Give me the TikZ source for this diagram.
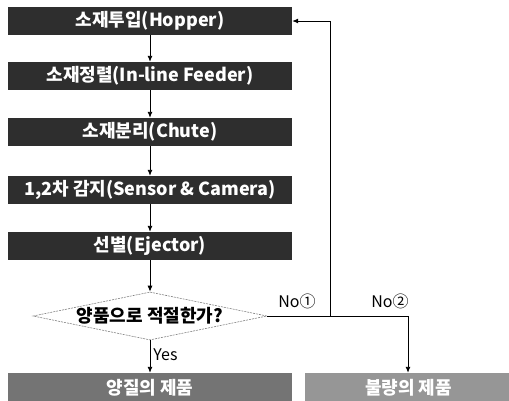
\documentclass[tikz,border=0pt]{standalone}
\usepackage{fontspec}
\setmainfont{Noto Sans CJK KR}
\usetikzlibrary{shapes.geometric,arrows.meta}
\definecolor{boxdark}{HTML}{2E2E2E}
\definecolor{boxmid}{HTML}{747474}
\definecolor{boxlight}{HTML}{969696}
\tikzset{
  stepbox/.style={rectangle, fill=boxdark, text=white, font=\bfseries\fontsize{18}{20}\selectfont,
    minimum width=284pt, minimum height=28pt, inner sep=0pt},
  endbox/.style={rectangle, text=white, font=\bfseries\fontsize{18}{20}\selectfont,
    minimum height=30pt, inner sep=0pt},
  arr/.style={draw=black, line width=0.9pt, -{Latex[length=6pt,width=5pt]}},
  ln/.style={draw=black, line width=0.9pt},
  lab/.style={font=\fontsize{16}{18}\selectfont, inner sep=0pt},
}
\begin{document}
\begin{tikzpicture}[x=1pt,y=-1pt]
\useasboundingbox (0,0) rectangle (509,400);
\node[stepbox] (b1) at (150,21) {소재투입(Hopper)};
\node[stepbox] (b2) at (150,76) {소재정렬(In-line Feeder)};
\node[stepbox] (b3) at (150,132) {소재분리(Chute)};
\node[stepbox] (b4) at (150,190) {1,2차 감지(Sensor \& Camera)};
\node[stepbox] (b5) at (150,246) {선별(Ejector)};
\node[diamond, draw=gray, dashed, dash pattern=on 2pt off 1pt, line width=0.6pt,
  minimum width=234pt, minimum height=48pt, inner sep=0pt,
  label={[font=\bfseries\fontsize{18}{20}\selectfont]center:양품으로 적절한가?}] (q) at (150,316) {};
\node[endbox, fill=boxmid, minimum width=284pt] (good) at (150,388) {양질의 제품};
\node[endbox, fill=boxlight, minimum width=207pt] (bad) at (408.5,388) {불량의 제품};
\coordinate (j) at (330,316);
\coordinate (jt) at (330,21);
\coordinate (k) at (408,316);
\draw[arr] (b1) -- (b2);
\draw[arr] (b2) -- (b3);
\draw[arr] (b3) -- (b4);
\draw[arr] (b4) -- (b5);
\draw[arr] (b5) -- (q.north);
\draw[arr] (q.south) -- node[lab, right=3pt, pos=0.45] {Yes} (good.north);
\draw[ln] (q.east) -- (j);
\draw[arr] (j) -- (jt) -- (b1.east);
\draw[arr] (j) -- (k) -- (bad.north -| k);
\node[lab] (no1) at (297,301) {No①};
\node[lab] (no2) at (390,301) {No②};
\end{tikzpicture}
\end{document}
